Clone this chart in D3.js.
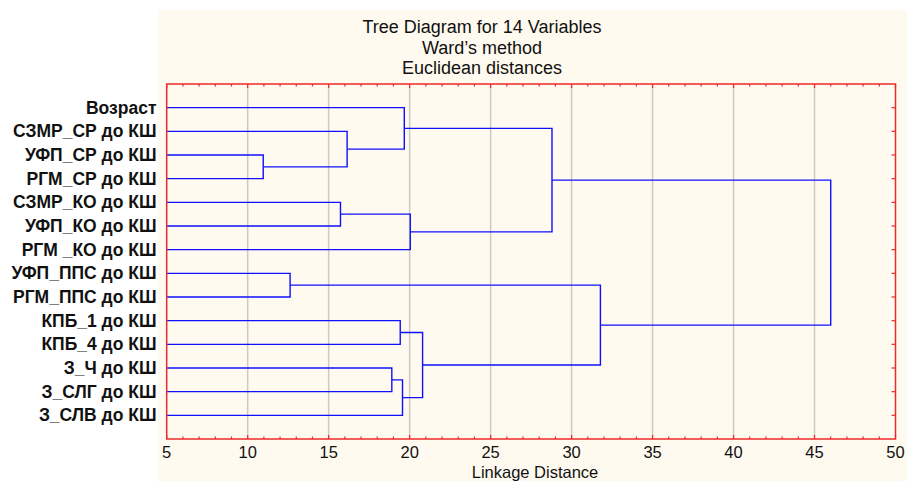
<!DOCTYPE html>
<html>
<head>
<meta charset="utf-8">
<script src="https://cdn.jsdelivr.net/npm/d3@7"></script>
<style>
  html, body { margin: 0; padding: 0; background: #ffffff; }
  svg { display: block; }
  text { font-family: "Liberation Sans", Arial, sans-serif; fill: #111; }
</style>
</head>
<body>
<svg id="chart" width="907" height="481"></svg>
<script>
// ---- data ----
const titleLines = ["Tree Diagram for 14 Variables", "Ward\u2019s method", "Euclidean distances"];
const xAxisTitle = "Linkage Distance";
const leaves = [
  "Возраст",
  "СЗМР_СР до КШ",
  "УФП_СР до КШ",
  "РГМ_СР до КШ",
  "СЗМР_КО до КШ",
  "УФП_КО до КШ",
  "РГМ _КО до КШ",
  "УФП_ППС до КШ",
  "РГМ_ППС до КШ",
  "КПБ_1 до КШ",
  "КПБ_4 до КШ",
  "З_Ч до КШ",
  "З_СЛГ до КШ",
  "З_СЛВ до КШ"
];
// linkage: node ids >= 14 are previous merges (14 + merge index)
const mergeLeft   = [2, 1, 0, 4, 6, 16, 7, 9, 11, 13, 21, 20, 19];
const mergeRight  = [3, 14, 15, 5, 17, 18, 8, 10, 12, 22, 23, 24, 25];
const mergeHeight = [10.96, 16.14, 19.67, 15.73, 20.04, 28.79, 12.62, 19.42, 18.90, 19.56, 20.80, 31.78, 46.0];
const xTicks = [5, 10, 15, 20, 25, 30, 35, 40, 45, 50];

// ---- layout ----
const svg = d3.select("#chart");
const W = 907, H = 481;
const panel = {x: 158, y: 10};
const plot = {left: 166.7, right: 895.5, top: 84, bottom: 439};

svg.append("rect").attr("x", panel.x).attr("y", panel.y)
  .attr("width", W - panel.x).attr("height", H - panel.y)
  .attr("fill", "#fefaef");

const x = d3.scaleLinear().domain([5, 50]).range([plot.left, plot.right]);
const y = d3.scalePoint().domain(d3.range(leaves.length)).range([plot.top, plot.bottom]).padding(1);

// grid
svg.append("g").selectAll("line").data(xTicks.filter(t => t > 5 && t < 50)).join("line")
  .attr("x1", d => x(d)).attr("x2", d => x(d))
  .attr("y1", plot.top).attr("y2", plot.bottom)
  .attr("stroke", "#cdcac4").attr("stroke-width", 1.5);

// titles
svg.append("g").selectAll("text").data(titleLines).join("text")
  .attr("x", 482).attr("y", (d, i) => 33 + i * 20.7)
  .attr("text-anchor", "middle")
  .style("font-size", "18px")
  .text(d => d);

// dendrogram
const n = leaves.length;
const nodeX = [], nodeY = [];
for (let i = 0; i < n; i++) { nodeX[i] = x(5); nodeY[i] = y(i); }
mergeHeight.forEach((h, k) => {
  const a = mergeLeft[k], b = mergeRight[k], id = n + k;
  nodeX[id] = x(h);
  nodeY[id] = (nodeY[a] + nodeY[b]) / 2;
});
const line = d3.line();
svg.append("g").selectAll("path").data(mergeHeight).join("path")
  .attr("d", (h, k) => {
    const a = mergeLeft[k], b = mergeRight[k], hx = x(h);
    return line([[nodeX[a], nodeY[a]], [hx, nodeY[a]], [hx, nodeY[b]], [nodeX[b], nodeY[b]]]);
  })
  .attr("fill", "none").attr("stroke", "#1010ff").attr("stroke-width", 1.4);

// border
svg.append("rect").attr("x", plot.left).attr("y", plot.top)
  .attr("width", plot.right - plot.left).attr("height", plot.bottom - plot.top)
  .attr("fill", "none").attr("stroke", "#ec2a2a").attr("stroke-width", 1.5);

// axis ticks: bottom and top
const minor = d3.range(5, 51, 1);
const tickG = svg.append("g").attr("stroke", "#ec2a2a").attr("stroke-width", 1.2);
tickG.selectAll("line.b").data(minor).join("line").attr("class", "b")
  .attr("x1", d => x(d)).attr("x2", d => x(d))
  .attr("y1", plot.bottom).attr("y2", d => plot.bottom - (d % 5 === 0 ? 4 : 2.5));
tickG.selectAll("line.t").data(minor).join("line").attr("class", "t")
  .attr("x1", d => x(d)).attr("x2", d => x(d))
  .attr("y1", plot.top).attr("y2", d => plot.top + (d % 5 === 0 ? 4 : 2.5));
tickG.selectAll("line.r").data(d3.range(n)).join("line").attr("class", "r")
  .attr("x1", plot.right).attr("x2", plot.right - 4)
  .attr("y1", d => y(d)).attr("y2", d => y(d));

// bottom axis labels
svg.append("g").selectAll("text").data(xTicks).join("text")
  .attr("x", d => x(d)).attr("y", 457.5)
  .attr("text-anchor", "middle")
  .style("font-size", "16.5px")
  .text(d => d);

svg.append("text").attr("x", 535).attr("y", 477.5)
  .attr("text-anchor", "middle").style("font-size", "16.5px")
  .text(xAxisTitle);

// leaf labels
svg.append("g").selectAll("text").data(leaves).join("text")
  .attr("x", 156.5).attr("y", (d, i) => y(i) + 6)
  .attr("text-anchor", "end")
  .style("font-size", "17.5px").style("font-weight", "bold")
  .text(d => d);
</script>
</body>
</html>
